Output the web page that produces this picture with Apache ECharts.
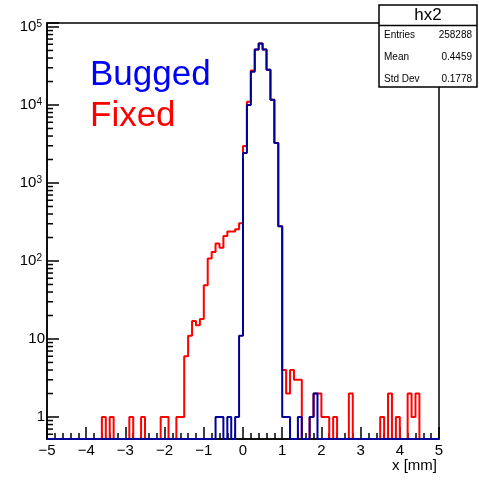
<!DOCTYPE html>
<html><head><meta charset="utf-8">
<script src="https://cdn.jsdelivr.net/npm/echarts@6/dist/echarts.min.js"></script>
<style>html,body{margin:0;padding:0;background:#fff}#c{width:479px;height:480px}</style>
</head><body><div id="c"></div>
<script>
// Histogram binning: 100 bins of width 0.1 on [-5, 5]
const binLow = -5;
const binWidth = 0.1;
const fixedCounts = [
  0,0,0,0,0,0,0,0,0,0,
  0,0,0,0,1,0,1,0,0,0,
  0,1,0,0,1,0,0,0,0,1,
  1,0,0,1,1,6,11,17,15,18,
  49,108,130,168,148,209,238,238,255,305,
  2985,11000,27600,51500,61400,51500,28400,11670,3260,279,
  4,2,4,3,3,0,0,1,2,2,
  1,1,0,1,0,0,0,2,0,0,
  0,0,0,0,0,1,0,2,0,1,
  0,0,2,1,2,0,0,0,0,0
];
const buggedCounts = [
  0,0,0,0,0,0,0,0,0,0,
  0,0,0,0,0,0,0,0,0,0,
  0,0,0,0,0,0,0,0,0,0,
  0,0,0,0,0,0,0,0,0,0,
  0,0,0,1,1,0,1,0,1,11,
  2425,10000,26700,51500,61400,51500,28400,11670,3260,279,
  1,1,0,0,1,0,0,1,2,0,
  0,0,0,0,0,0,0,0,0,0,
  0,0,0,0,0,0,0,0,0,0,
  0,0,0,0,0,0,0,0,0,0
];
const xMin = -5, xMax = 5, xInterval = 1;
const yMin = 0.522, yMax = 1.125e5;
const statsTitle = 'hx2';
const statsRows = [['Entries','258288'],['Mean','0.4459'],['Std Dev','0.1778']];
const legendTexts = ['Bugged','Fixed'];
const xTitle = 'x [mm]';

const FONT = '"Liberation Sans", Arial, Helvetica, sans-serif';

function stepPoints(counts) {
  const pts = [];
  counts.forEach((c, i) => {
    const v = c > 0 ? c : yMin;
    const lo = +(binLow + i * binWidth).toFixed(3);
    const hi = +(binLow + (i + 1) * binWidth).toFixed(3);
    pts.push([lo, v], [hi, v]);
  });
  return pts;
}

const minorVals = [];
for (let e = -1; e <= 5; e++) {
  for (let m = 2; m <= 9; m++) {
    const v = m * Math.pow(10, e);
    if (v > yMin && v < yMax) minorVals.push([xMin, v]);
  }
}

const chart = echarts.init(document.getElementById('c'), null, {renderer: 'canvas'});
chart.setOption({
  animation: false,
  backgroundColor: '#fff',
  grid: {left: 47, right: 40, top: 23, bottom: 41, show: true, borderColor: '#000', borderWidth: 1.5, backgroundColor: 'transparent'},
  xAxis: {
    type: 'value', min: xMin, max: xMax, interval: xInterval,
    axisLine: {show: true, onZero: false, lineStyle: {color: '#000', width: 1.5}},
    axisTick: {show: true, inside: true, length: 12, lineStyle: {color: '#000', width: 1.5}},
    minorTick: {show: true, splitNumber: 5, length: 6, lineStyle: {color: '#000', width: 1.5}},
    splitLine: {show: false},
    axisLabel: {margin: 4, fontSize: 15, fontFamily: FONT, color: '#000',
      formatter: v => (v < 0 ? '\u2212' + (-v) : String(v))}
  },
  yAxis: {
    type: 'log', logBase: 10, min: yMin, max: yMax, splitNumber: 5,
    axisLine: {show: true, onZero: false, lineStyle: {color: '#000', width: 1.5}},
    axisTick: {show: true, inside: true, length: 12, lineStyle: {color: '#000', width: 1.5}},
    splitLine: {show: false},
    axisLabel: {
      margin: 2, fontSize: 15, fontFamily: FONT, color: '#000',
      showMinLabel: true, showMaxLabel: true,
      formatter: v => {
        const l = Math.log10(v);
        const e = Math.round(l);
        if (Math.abs(l - e) > 0.01) return '';
        if (e === 0) return '1';
        if (e === 1) return '10';
        return '{b|10}{s|' + e + '}';
      },
      rich: {
        b: {fontSize: 15, fontFamily: FONT, color: '#000', lineHeight: 16},
        s: {fontSize: 10, fontFamily: FONT, color: '#000', verticalAlign: 'top', lineHeight: 10, padding: [0, 3, 0, 0]}
      }
    }
  },
  series: [
    {type: 'line', name: 'Fixed', data: stepPoints(fixedCounts), showSymbol: false, symbol: 'none',
     clip: false, lineStyle: {color: '#ff0000', width: 2}, z: 3},
    {type: 'line', name: 'Bugged', data: stepPoints(buggedCounts), showSymbol: false, symbol: 'none',
     clip: false, lineStyle: {color: '#000099', width: 2}, z: 4},
    {type: 'custom', name: 'minorTicks', data: minorVals, z: 5, clip: false,
     renderItem: (params, api) => {
       const p = api.coord([api.value(0), api.value(1)]);
       return {type: 'line', shape: {x1: p[0], y1: p[1], x2: p[0] + 6, y2: p[1]},
               style: {stroke: '#000', lineWidth: 1.5}};
     }}
  ],
  graphic: [
    {type: 'text', left: 90, top: 58, z: 50, style: {text: legendTexts[0], fill: '#0000ff', font: '35px ' + FONT}},
    {type: 'text', left: 90, top: 99, z: 50, style: {text: legendTexts[1], fill: '#ff0000', font: '35px ' + FONT}},
    {type: 'text', right: 42, top: 458, z: 50, style: {text: xTitle, fill: '#000', font: '15px ' + FONT}},
    {type: 'group', z: 100, children: [
      {type: 'rect', shape: {x: 379, y: 5, width: 98, height: 82}, style: {fill: '#fff', stroke: '#000', lineWidth: 1.5}},
      {type: 'line', shape: {x1: 379, y1: 25.5, x2: 477, y2: 25.5}, style: {stroke: '#000', lineWidth: 1.5}},
      {type: 'text', x: 428, y: 15.5, style: {text: statsTitle, fill: '#000', font: '17px ' + FONT, align: 'center', verticalAlign: 'middle'}},
      ...statsRows.flatMap((r, i) => [
        {type: 'text', x: 384, y: 35 + i * 22, style: {text: r[0], fill: '#000', font: '10px ' + FONT, align: 'left', verticalAlign: 'middle'}},
        {type: 'text', x: 472, y: 35 + i * 22, style: {text: r[1], fill: '#000', font: '10px ' + FONT, align: 'right', verticalAlign: 'middle'}}
      ])
    ]}
  ]
});
</script>
</body></html>
